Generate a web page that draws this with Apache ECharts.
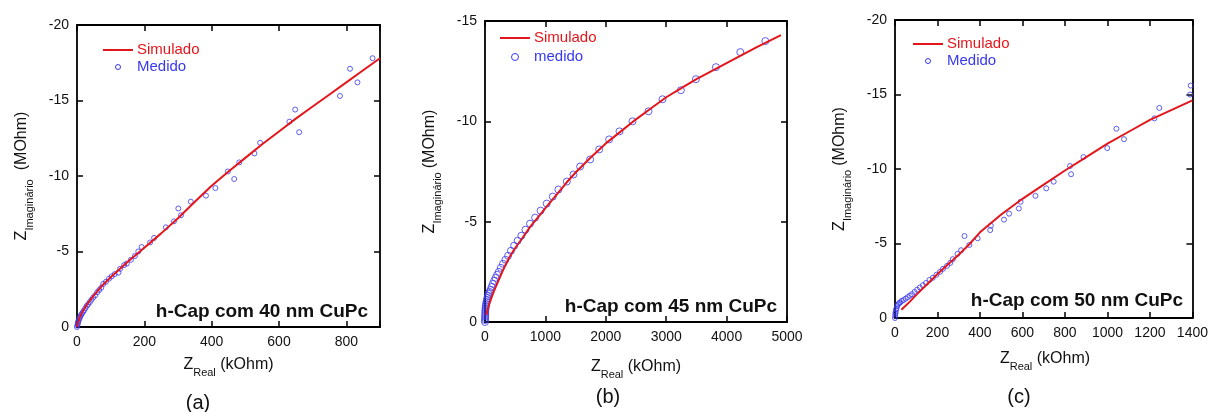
<!DOCTYPE html>
<html>
<head>
<meta charset="utf-8">
<script src="https://cdn.jsdelivr.net/npm/echarts@6/dist/echarts.min.js"></script>
<style>
html,body{margin:0;padding:0;background:#fff;}
#chart{width:1211px;height:412px;}
</style>
</head>
<body>
<div id="chart"></div>
<script>
// ---------- DATA ----------
// Panel (a) h-Cap com 40 nm CuPc : [Z_real (kOhm), Z_imag (MOhm)]
var simA = [[0,0],[2,-0.25],[5,-0.45],[10,-0.75],[20,-1.15],[30,-1.5],[40,-1.8],[50,-2.1],[75,-2.75],[100,-3.3],[150,-4.3],[200,-5.25],[250,-6.2],[300,-7.2],[350,-8.3],[400,-9.35],[450,-10.3],[500,-11.2],[550,-12.1],[600,-12.95],[650,-13.8],[700,-14.6],[750,-15.4],[800,-16.2],[850,-17.0],[900,-17.8]];
var medA = [[0,0],[1,-0.1],[2,-0.2],[3,-0.3],[4,-0.4],[6,-0.5],[8,-0.6],[10,-0.7],[12,-0.8],[15,-0.9],[18,-1.0],[21,-1.1],[25,-1.25],[29,-1.4],[33,-1.5],[38,-1.65],[43,-1.8],[48,-1.95],[54,-2.1],[60,-2.3],[66,-2.45],[72,-2.6],[78,-2.85],[86,-3.0],[95,-3.2],[103,-3.35],[112,-3.5],[123,-3.6],[128,-3.85],[140,-4.1],[148,-4.2],[160,-4.45],[172,-4.7],[182,-5.0],[192,-5.3],[217,-5.6],[229,-5.9],[264,-6.6],[288,-7.0],[301,-7.85],[309,-7.4],[338,-8.3],[383,-8.7],[411,-9.2],[448,-10.3],[467,-9.8],[482,-10.9],[527,-11.5],[544,-12.2],[631,-13.6],[648,-14.4],[660,-12.9],[781,-15.3],[811,-17.1],[833,-16.2],[878,-17.8]];

// Panel (b) h-Cap com 45 nm CuPc
var simB = [[20,-0.35],[55,-0.75],[100,-1.15],[150,-1.55],[200,-1.9],[250,-2.25],[300,-2.6],[400,-3.2],[470,-3.55],[550,-3.9],[600,-4.1],[750,-4.75],[900,-5.3],[1020,-5.75],[1200,-6.4],[1350,-6.95],[1500,-7.45],[1750,-8.2],[2000,-8.9],[2250,-9.5],[2500,-10.1],[2750,-10.65],[3000,-11.2],[3250,-11.65],[3500,-12.1],[3750,-12.5],[4000,-12.9],[4250,-13.3],[4500,-13.7],[4900,-14.3]];
var medB = [[0,0],[1,-0.1],[2,-0.2],[3,-0.3],[4,-0.4],[5,-0.5],[7,-0.6],[10,-0.7],[14,-0.8],[19,-0.9],[25,-1.0],[32,-1.1],[40,-1.2],[50,-1.3],[62,-1.4],[76,-1.5],[92,-1.6],[110,-1.75],[130,-1.9],[152,-2.05],[176,-2.2],[202,-2.35],[230,-2.5],[262,-2.7],[298,-2.9],[338,-3.1],[382,-3.3],[430,-3.55],[482,-3.8],[540,-4.05],[602,-4.3],[670,-4.6],[745,-4.9],[830,-5.2],[920,-5.55],[1022,-5.9],[1122,-6.25],[1215,-6.6],[1354,-7.0],[1464,-7.35],[1575,-7.75],[1740,-8.1],[1890,-8.6],[2055,-9.1],[2227,-9.5],[2442,-10.0],[2707,-10.5],[2939,-11.1],[3243,-11.55],[3492,-12.1],[3823,-12.7],[4227,-13.45],[4641,-14.0]];

// Panel (c) h-Cap com 50 nm CuPc
var simC = [[30,-0.55],[70,-1.1],[100,-1.55],[150,-2.25],[200,-2.95],[250,-3.6],[300,-4.25],[350,-4.95],[400,-5.75],[500,-6.95],[600,-8.0],[700,-8.95],[800,-9.9],[900,-10.8],[1000,-11.7],[1100,-12.5],[1200,-13.3],[1300,-13.95],[1400,-14.6]];
var medC = [[0,0],[1,-0.15],[2,-0.3],[3,-0.4],[5,-0.55],[7,-0.65],[10,-0.8],[14,-0.9],[19,-1.0],[25,-1.05],[32,-1.15],[40,-1.2],[50,-1.3],[60,-1.4],[70,-1.5],[80,-1.6],[92,-1.75],[104,-1.9],[117,-2.05],[131,-2.2],[146,-2.35],[162,-2.55],[178,-2.7],[195,-2.9],[212,-3.1],[226,-3.3],[245,-3.5],[260,-3.7],[272,-3.95],[294,-4.3],[311,-4.55],[327,-5.5],[350,-4.9],[389,-5.35],[448,-5.9],[451,-6.2],[513,-6.6],[537,-7.0],[583,-7.35],[591,-7.8],[661,-8.2],[712,-8.7],[747,-9.15],[824,-10.2],[829,-9.65],[887,-10.8],[999,-11.4],[1042,-12.7],[1078,-12.0],[1221,-13.4],[1244,-14.1],[1389,-15.0],[1392,-15.6]];

// axis ranges
var xMax = [900, 5000, 1400];
var xInterval = [200, 1000, 200];
var yMin = [-20, -15, -20];
var yInterval = [5, 5, 5];

// texts
var panelLabels = ['(a)', '(b)', '(c)'];
var annotations = ['h-Cap com 40 nm CuPc', 'h-Cap com 45 nm CuPc', 'h-Cap com 50 nm CuPc'];
var legendSim = ['Simulado', 'Simulado', 'Simulado'];
var legendMed = ['Medido', 'medido', 'Medido'];
var xNameMain = 'Z', xNameSub = 'Real', xNameUnit = '(kOhm)';
var yNameMain = 'Z', yNameSub = 'Imaginário', yNameUnit = '(MOhm)';

var sims = [simA, simB, simC];
var meds = [medA, medB, medC];

// ---------- LAYOUT ----------
var FONT = 'Liberation Sans, Arial, Helvetica, sans-serif';
var grids = [
  {left: 77, top: 25, width: 303, height: 302},
  {left: 485, top: 21, width: 302, height: 301},
  {left: 895, top: 20, width: 300, height: 298}
];
var symSizes = [5, 7, 5];
var RED = '#e3161b', BLUE = '#3838f0';

var ctx = document.createElement('canvas').getContext('2d');
function tw(text, size, weight) {
  ctx.font = (weight || 'normal') + ' ' + size + 'px ' + FONT;
  return ctx.measureText(text).width;
}
function txt(text, x, y, size, color, align, weight) {
  return {type: 'text', x: x, y: y, z: 100, style: {
    text: text, fill: color || '#111', fontSize: size, fontFamily: FONT,
    fontWeight: weight || 'normal', align: align || 'left', verticalAlign: 'middle',
    textAlign: align || 'left', textVerticalAlign: 'middle'}};
}

var xAxes = [], yAxes = [], series = [], graphic = [];
var lineStyleAx = {color: '#000', width: 1.8};
var tickStyle = {show: true, inside: true, length: 6, lineStyle: {color: '#000', width: 1.5}};

grids.forEach(function (g, i) {
  var iv = xInterval[i];
  var common = {type: 'value', gridIndex: i, min: 0, max: xMax[i], interval: iv,
    splitLine: {show: false},
    axisLine: {show: true, onZero: false, lineStyle: lineStyleAx},
    axisTick: tickStyle};
  xAxes.push(Object.assign({}, common, {position: 'bottom',
    axisLabel: {show: true, fontSize: 14, fontFamily: FONT, color: '#111', margin: 8,
      showMinLabel: true, showMaxLabel: true,
      formatter: function (v) { return (v % iv === 0) ? String(v) : ''; }}}));
  xAxes.push(Object.assign({}, common, {position: 'top', axisLabel: {show: false}}));
  var ycommon = {type: 'value', gridIndex: i, min: yMin[i], max: 0, interval: yInterval[i], inverse: true,
    splitLine: {show: false},
    axisLine: {show: true, onZero: false, lineStyle: lineStyleAx},
    axisTick: tickStyle};
  yAxes.push(Object.assign({}, ycommon, {position: 'left',
    axisLabel: {show: true, fontSize: 14, fontFamily: FONT, color: '#111', margin: 8,
      showMinLabel: true, showMaxLabel: true, formatter: function (v) { return String(v); }}}));
  yAxes.push(Object.assign({}, ycommon, {position: 'right', axisLabel: {show: false}}));

  series.push({type: 'scatter', xAxisIndex: 2 * i, yAxisIndex: 2 * i, data: meds[i],
    symbol: 'circle', symbolSize: symSizes[i], z: 2,
    itemStyle: {color: 'rgba(0,0,0,0)', borderColor: BLUE, borderWidth: 1}});
  series.push({type: 'line', xAxisIndex: 2 * i, yAxisIndex: 2 * i, data: sims[i],
    showSymbol: false, smooth: false, z: 3,
    lineStyle: {color: RED, width: 2}});

  // legend
  var legY1 = g.top + [25, 17, 24][i], legY2 = legY1 + [17, 19, 17][i];
  var lx = g.left + [26, 15, 18][i];
  graphic.push({type: 'line', z: 100, shape: {x1: lx, y1: legY1, x2: lx + 30, y2: legY1},
    style: {stroke: RED, lineWidth: 2}});
  graphic.push({type: 'circle', z: 100, shape: {cx: lx + 15, cy: legY2, r: symSizes[i] / 2},
    style: {fill: 'none', stroke: BLUE, lineWidth: 1}});
  graphic.push(txt(legendSim[i], lx + 34, legY1, 15, RED));
  graphic.push(txt(legendMed[i], lx + 34, legY2, 15, BLUE));

  // annotation
  graphic.push(txt(annotations[i], g.left + g.width - [12, 10, 12][i], g.top + g.height - [15, 15, 17][i], 19, '#111', 'right', 'bold'));

  // x axis name
  var wZ = tw(xNameMain, 16), wS = tw(xNameSub, 11), wU = tw(' ' + xNameUnit, 16);
  var total = wZ + wS + wU;
  var cx = g.left + g.width / 2;
  var ny = g.top + g.height + [38, 45, 41][i];
  var x0 = cx - total / 2;
  graphic.push(txt(xNameMain, x0, ny, 16, '#111'));
  graphic.push(txt(xNameSub, x0 + wZ, ny + 8, 11, '#111'));
  graphic.push(txt(' ' + xNameUnit, x0 + wZ + wS, ny, 16, '#111'));

  // y axis name (rotated)
  var gap = [9, 4, 4][i];
  var yz = tw(yNameMain, 16), ys = tw(yNameSub, 11), yu = tw(yNameUnit, 16);
  var ytot = yz + ys + gap + yu;
  var y0 = -ytot / 2;
  graphic.push({type: 'group', x: g.left - 55, y: g.top + g.height / 2, rotation: Math.PI / 2, z: 100,
    children: [
      txt(yNameMain, y0, 0, 16, '#111'),
      txt(yNameSub, y0 + yz, 8, 11, '#111'),
      txt(yNameUnit, y0 + yz + ys + gap, 0, 16, '#111')
    ]});

  // panel label
  graphic.push(txt(panelLabels[i], [198, 608, 1019][i], [403, 397, 397][i], 20, '#111', 'center'));
});

var chart = echarts.init(document.getElementById('chart'), null, {renderer: 'canvas'});
chart.setOption({
  animation: false,
  backgroundColor: '#fff',
  grid: grids.map(function (g) { return Object.assign({containLabel: false}, g); }),
  xAxis: xAxes,
  yAxis: yAxes,
  series: series,
  graphic: graphic
});
</script>
</body>
</html>
